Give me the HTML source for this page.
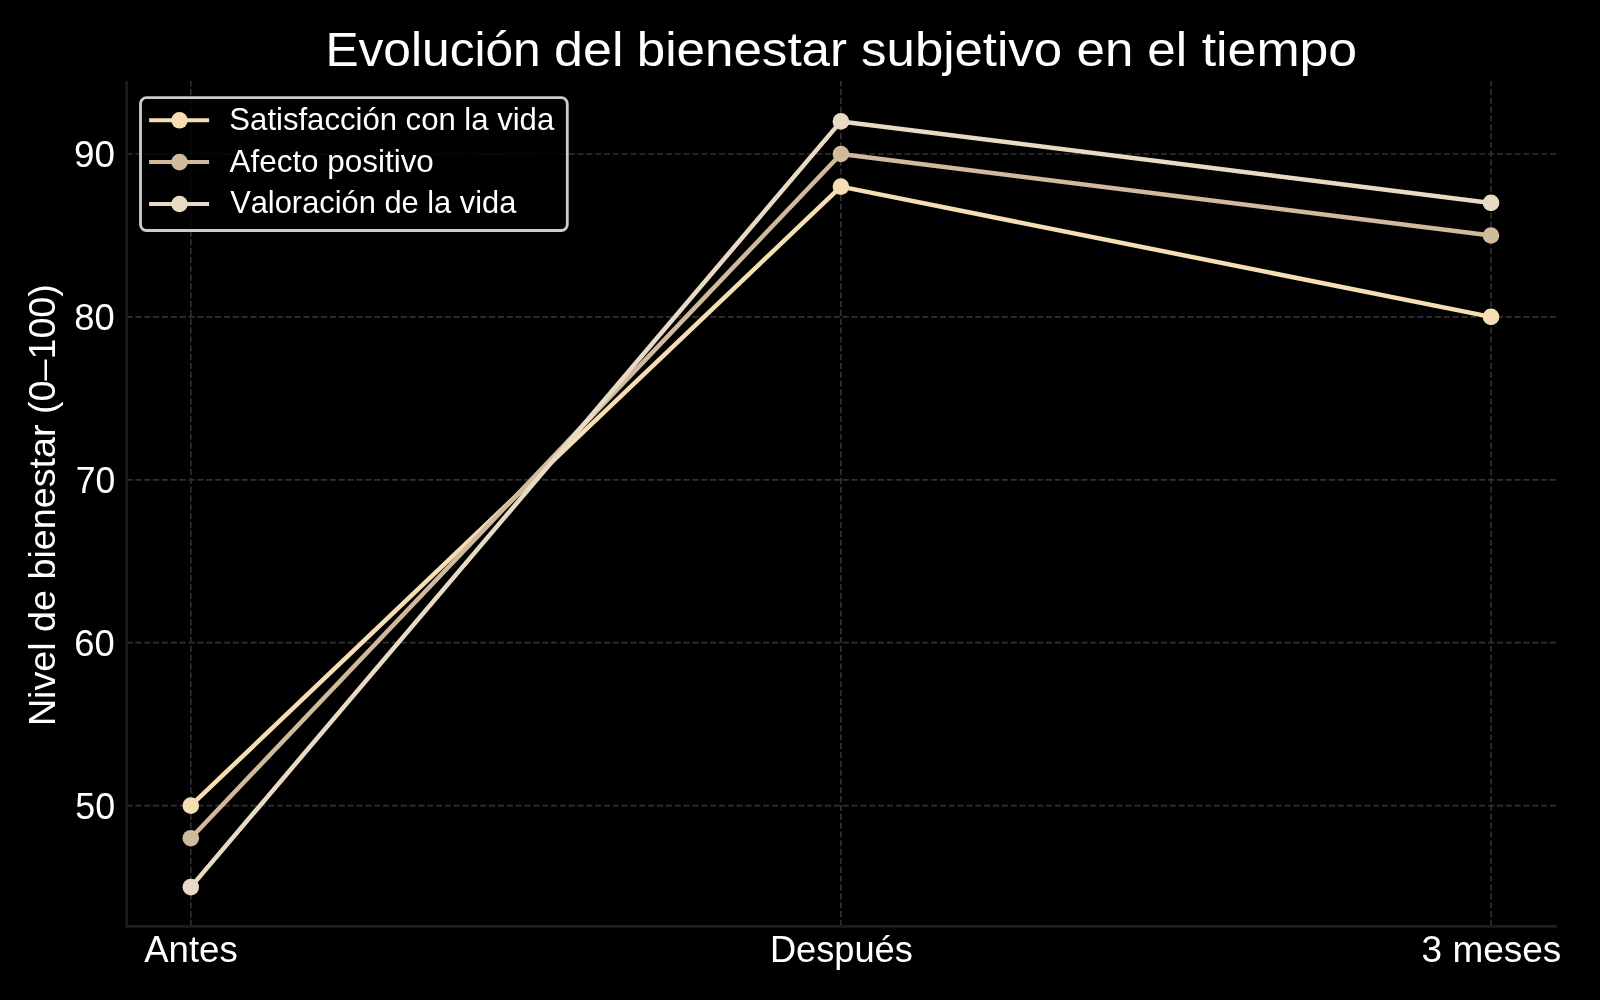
<!DOCTYPE html>
<html>
<head>
<meta charset="utf-8">
<style>
html,body{margin:0;padding:0;background:#000;width:1600px;height:1000px;overflow:hidden;}
svg{display:block;will-change:transform;}
text{font-family:"Liberation Sans",sans-serif;fill:#ffffff;font-kerning:none;}
</style>
</head>
<body>
<svg width="1600" height="1000" viewBox="0 0 1600 1000">
<rect x="0" y="0" width="1600" height="1000" fill="#000"/>
<g stroke="#303030" stroke-width="1.67" stroke-dasharray="6.17 2.67" fill="none">
<line x1="126.6" y1="154" x2="1556" y2="154"/>
<line x1="126.6" y1="316.9" x2="1556" y2="316.9"/>
<line x1="126.6" y1="479.8" x2="1556" y2="479.8"/>
<line x1="126.6" y1="642.7" x2="1556" y2="642.7"/>
<line x1="126.6" y1="805.6" x2="1556" y2="805.6"/>
<line x1="190.8" y1="926" x2="190.8" y2="81"/>
<line x1="840.9" y1="926" x2="840.9" y2="81"/>
<line x1="1491" y1="926" x2="1491" y2="81"/>
</g>
<g stroke="#1e1e1e" stroke-width="2.6" fill="none">
<line x1="126.6" y1="81" x2="126.6" y2="927.6"/>
<line x1="125.3" y1="926.4" x2="1557" y2="926.4"/>
</g>
<g fill="none" stroke-width="4.5" stroke-linejoin="round" stroke-linecap="round">
<polyline stroke="#F5DEB3" points="190.8,805.6 840.9,186.6 1491,316.9"/>
<polyline stroke="#D0BA9C" points="190.8,838.2 840.9,154 1491,235.5"/>
<polyline stroke="#E8DAC4" points="190.8,887.1 840.9,121.4 1491,202.9"/>
</g>
<g>
<circle cx="190.8" cy="805.6" r="8.3" fill="#F5DEB3"/>
<circle cx="840.9" cy="186.6" r="8.3" fill="#F5DEB3"/>
<circle cx="1491" cy="316.9" r="8.3" fill="#F5DEB3"/>
<circle cx="190.8" cy="838.2" r="8.3" fill="#D0BA9C"/>
<circle cx="840.9" cy="154" r="8.3" fill="#D0BA9C"/>
<circle cx="1491" cy="235.5" r="8.3" fill="#D0BA9C"/>
<circle cx="190.8" cy="887.1" r="8.3" fill="#E8DAC4"/>
<circle cx="840.9" cy="121.4" r="8.3" fill="#E8DAC4"/>
<circle cx="1491" cy="202.9" r="8.3" fill="#E8DAC4"/>
</g>
<rect x="140.5" y="97.7" width="426.8" height="132.8" rx="6" ry="6" fill="rgba(0,0,0,0.8)" stroke="#cccccc" stroke-width="2.8"/>
<g fill="none" stroke-width="4">
<line x1="149.1" y1="120.3" x2="209.1" y2="120.3" stroke="#F5DEB3"/>
<line x1="149.1" y1="162.1" x2="209.1" y2="162.1" stroke="#D0BA9C"/>
<line x1="149.1" y1="204" x2="209.1" y2="204" stroke="#E8DAC4"/>
</g>
<circle cx="179.5" cy="120.3" r="8.3" fill="#F5DEB3"/>
<circle cx="179.5" cy="162.1" r="8.3" fill="#D0BA9C"/>
<circle cx="179.5" cy="204" r="8.3" fill="#E8DAC4"/>
<text x="325.43" y="66.10" font-size="48" textLength="215.30" lengthAdjust="spacingAndGlyphs">Evolución</text>
<text x="554.07" y="66.10" font-size="48" textLength="69.41" lengthAdjust="spacingAndGlyphs">del</text>
<text x="636.70" y="66.10" font-size="48" textLength="210.40" lengthAdjust="spacingAndGlyphs">bienestar</text>
<text x="861.08" y="66.10" font-size="48" textLength="201.06" lengthAdjust="spacingAndGlyphs">subjetivo</text>
<text x="1076.58" y="66.10" font-size="48" textLength="56.73" lengthAdjust="spacingAndGlyphs">en</text>
<text x="1147.33" y="66.10" font-size="48" textLength="39.85" lengthAdjust="spacingAndGlyphs">el</text>
<text x="1201.72" y="66.10" font-size="48" textLength="155.46" lengthAdjust="spacingAndGlyphs">tiempo</text>
<text x="74.03" y="166.90" font-size="36" textLength="40.91" lengthAdjust="spacingAndGlyphs">90</text>
<text x="74.39" y="329.80" font-size="36" textLength="40.43" lengthAdjust="spacingAndGlyphs">80</text>
<text x="75.68" y="492.70" font-size="36" textLength="39.51" lengthAdjust="spacingAndGlyphs">70</text>
<text x="74.35" y="655.60" font-size="36" textLength="40.47" lengthAdjust="spacingAndGlyphs">60</text>
<text x="75.37" y="818.50" font-size="36" textLength="39.83" lengthAdjust="spacingAndGlyphs">50</text>
<text x="144.23" y="962.10" font-size="36" textLength="93.49" lengthAdjust="spacingAndGlyphs">Antes</text>
<text x="769.93" y="962.10" font-size="36" textLength="142.88" lengthAdjust="spacingAndGlyphs">Después</text>
<text x="1421.59" y="962.10" font-size="36" textLength="139.74" lengthAdjust="spacingAndGlyphs">3 meses</text>
<text x="229.39" y="129.70" font-size="30.5" textLength="324.81" lengthAdjust="spacingAndGlyphs">Satisfacción con la vida</text>
<text x="229.54" y="171.70" font-size="30.5" textLength="204.28" lengthAdjust="spacingAndGlyphs">Afecto positivo</text>
<text x="230.16" y="212.90" font-size="30.5" textLength="286.24" lengthAdjust="spacingAndGlyphs">Valoración de la vida</text>
<text transform="translate(55,726.09) rotate(-90)" x="0" y="0" font-size="36" textLength="441.93" lengthAdjust="spacingAndGlyphs">Nivel de bienestar (0–100)</text>
</svg>
</body>
</html>
